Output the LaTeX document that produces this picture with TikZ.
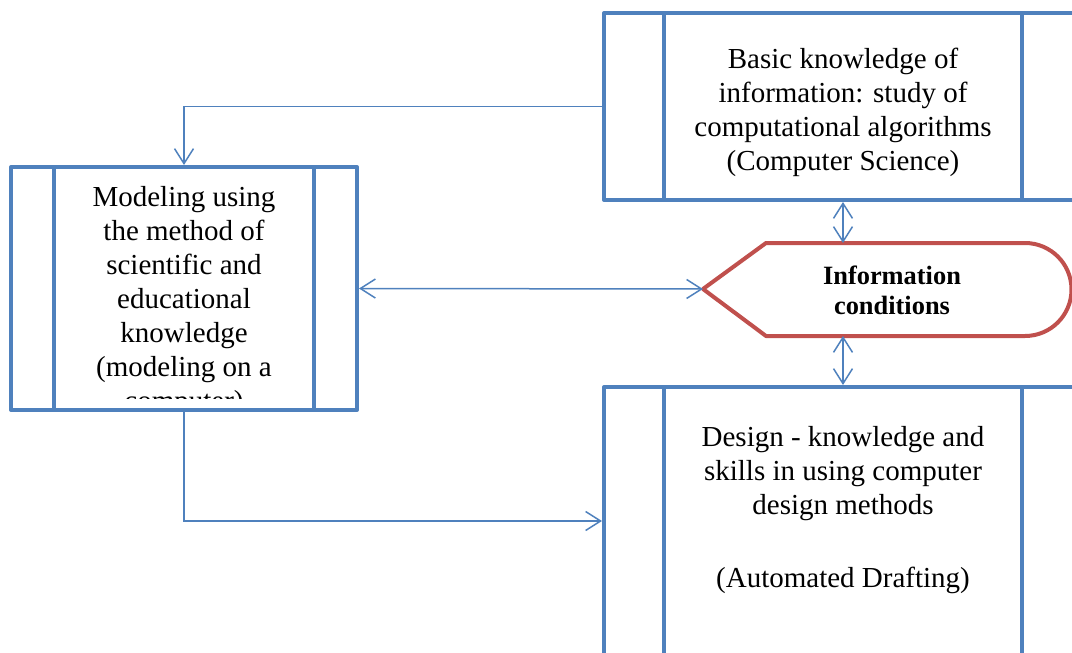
\documentclass[tikz,border=0pt]{standalone}
\usepackage{fontspec}
\setmainfont{Liberation Serif}
\usepackage{tikz}
\usetikzlibrary{arrows.meta, positioning, calc}

\definecolor{boxblue}{HTML}{4F81BD}
\definecolor{condred}{HTML}{C0504D}

\tikzset{
	procbox/.style={rectangle, draw=boxblue, line width=2pt, line join=round, inner sep=0pt},
	boxline/.style={draw=boxblue, line width=2pt},
	bodytext/.style={inner sep=0pt, align=center, font={\fontsize{14.5}{17}\selectfont}},
	barb/.tip={Straight Barb[length=7.5pt, width=9.5pt]},
	link/.style={draw=boxblue, line width=0.75pt, -barb},
	bilink/.style={draw=boxblue, line width=0.75pt, barb-barb},
	condshape/.style={draw=condred, line width=2pt, line join=round}
}

\begin{document}
\begin{tikzpicture}[x=0.5pt, y=-0.5pt]
		\useasboundingbox (0,0) rectangle (1072,653);
		\clip (0,0) rectangle (1072,653);
		% the three boxes
		\node[procbox, minimum width=239pt, minimum height=93.5pt] (cs) at (843,106.5) {};
		\node[procbox, minimum width=173pt, minimum height=121.5pt] (model) at (184,288.5) {};
		\node[procbox, minimum width=239pt, minimum height=150pt, anchor=north] (design) at (843,385) {};
		\draw[boxline] ([xshift=31pt]cs.north west) -- ([xshift=31pt]cs.south west);
		\draw[boxline] ([xshift=-31pt]cs.north east) -- ([xshift=-31pt]cs.south east);
		\draw[boxline] ([xshift=22.5pt]model.north west) -- ([xshift=22.5pt]model.south west);
		\draw[boxline] ([xshift=-22.5pt]model.north east) -- ([xshift=-22.5pt]model.south east);
		\draw[boxline] ([xshift=31pt]design.north west) -- ([xshift=31pt]design.south west);
		\draw[boxline] ([xshift=-31pt]design.north east) -- ([xshift=-31pt]design.south east);
		\node[bodytext] (cstxt) at ([yshift=-3pt]cs.center) {Basic knowledge of\\ information: study of\\ computational algorithms\\ (Computer Science)};
		\begin{scope}
			\clip ([xshift=23.5pt]model.north west) rectangle ([xshift=-23.5pt, yshift=7pt]model.south east);
			\node[bodytext, below=10.5pt of model.north] (modeltxt) {Modeling using\\ the method of\\ scientific and\\ educational\\ knowledge\\ (modeling on a\\ computer)};
		\end{scope}
		\node[bodytext, below=20.5pt of design.north] (designtxt) {Design - knowledge and\\ skills in using computer\\ design methods\\[19.5pt] (Automated Drafting)};
		% information conditions
		\coordinate (infotip) at (703,289);
		\coordinate (infotop) at (843,243);
		\coordinate (infobot) at (843,336);
		\draw[condshape] (infotip) -- (766,243) -- (1025,243) arc[start angle=90, end angle=-90, radius=23.25pt] -- (766,336) -- cycle;
		\node[align=center, font={\bfseries\fontsize{13.2}{15}\selectfont}] (info) at (892,290) {Information\\ conditions};
		% connectors
		\draw[link] (cs.west) -| (model.north);
		\draw[bilink] (model.east) -- (infotip);
		\draw[bilink] (cs.south) -- (infotop);
		\draw[bilink] (infobot) -- (design.north);
		\draw[link] (model.south) |- ([yshift=8pt]design.west);
		\end{tikzpicture}
\end{document}
